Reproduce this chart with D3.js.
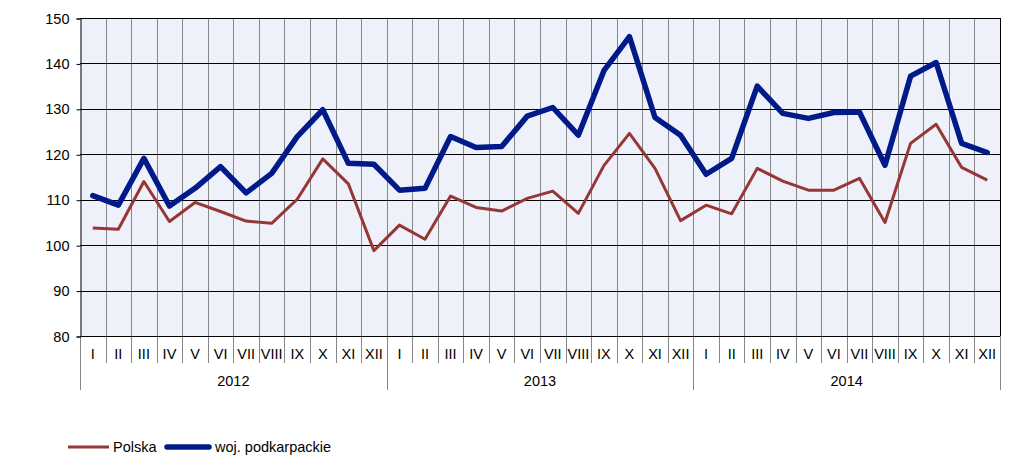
<!DOCTYPE html>
<html><head><meta charset="utf-8">
<script src="https://cdn.jsdelivr.net/npm/d3@7/dist/d3.min.js"></script>
<style>body{margin:0;background:#fff;font-family:"Liberation Sans",Arial,sans-serif;}</style>
</head><body>
<svg id="c" width="1010" height="472"></svg>
<script>
const years = ["2012", "2013", "2014"];
const months = ["I","II","III","IV","V","VI","VII","VIII","IX","X","XI","XII"];
const polska = [103.8,103.5,114.0,105.2,109.4,107.4,105.3,104.8,110.1,119.0,113.5,98.8,
                104.4,101.3,110.8,108.3,107.5,110.3,111.9,107.0,117.5,124.6,116.9,105.4,
                108.8,106.9,116.9,114.1,112.1,112.1,114.7,105.0,122.4,126.6,117.1,114.3];
const podkarpackie = [110.9,108.8,119.1,108.6,112.5,117.3,111.5,115.8,123.9,129.8,118.0,117.8,
                      112.1,112.5,123.9,121.5,121.7,128.4,130.3,124.2,138.4,145.9,128.1,124.2,
                      115.6,119.1,135.0,129.0,127.9,129.2,129.3,117.6,137.2,140.2,122.4,120.4];
const yTicks = [80,90,100,110,120,130,140,150];
const seriesNames = ["Polska", "woj. podkarpackie"];

const L = 80, R = 1000, T = 18, B = 336;
const svg = d3.select("#c");
const keys = [];
years.forEach(y => months.forEach(m => keys.push(y + "-" + m)));
const x = d3.scaleBand().domain(keys).range([L, R]).padding(0);
const y = d3.scaleLinear().domain([80, 150]).range([B, T]);
const font = "'Liberation Sans', Arial, sans-serif";
const fs = 14.5;

svg.append("rect").attr("x", L).attr("y", T).attr("width", R - L).attr("height", B - T).attr("fill", "#eef1f9");

keys.forEach((k, i) => {
  if (i === 0) return;
  const xx = Math.round(x(k)) + 0.5;
  const yearB = i % 12 === 0;
  svg.append("line").attr("x1", xx).attr("x2", xx).attr("y1", T).attr("y2", yearB ? 390 : 363)
    .attr("stroke", "#868686").attr("stroke-width", 1);
});
svg.append("line").attr("x1", R + 0.5).attr("x2", R + 0.5).attr("y1", T).attr("y2", B).attr("stroke", "#000");
svg.append("line").attr("x1", R + 0.5).attr("x2", R + 0.5).attr("y1", B).attr("y2", 390).attr("stroke", "#868686");
svg.append("line").attr("x1", L + 0.5).attr("x2", L + 0.5).attr("y1", B).attr("y2", 390).attr("stroke", "#868686");

yTicks.forEach(t => {
  const yy = Math.round(y(t)) + 0.5;
  svg.append("line").attr("x1", L).attr("x2", R).attr("y1", yy).attr("y2", yy).attr("stroke", "#000");
});

const yAxis = d3.axisLeft(y).tickValues(yTicks).tickSize(4).tickPadding(7);
const gy = svg.append("g").attr("transform", `translate(${L + 0.5},0.5)`).call(yAxis);
gy.select(".domain").attr("stroke", "#000");
gy.selectAll("text").attr("font-family", font).attr("font-size", fs).attr("fill", "#000");
gy.selectAll(".tick line").attr("stroke", "#000");

const xAxis = d3.axisBottom(x).tickSize(0).tickPadding(0).tickFormat(k => k.split("-")[1]);
const gx = svg.append("g").attr("transform", `translate(0,${B})`).call(xAxis);
gx.select(".domain").remove();
gx.selectAll("text").attr("font-family", font).attr("font-size", fs).attr("fill", "#000").attr("dy", null).attr("y", 23);

years.forEach(yr => {
  const x0 = x(yr + "-I"), x1 = x(yr + "-XII") + x.bandwidth();
  svg.append("text").attr("x", (x0 + x1) / 2).attr("y", 386).attr("text-anchor", "middle")
    .attr("font-family", font).attr("font-size", fs).attr("fill", "#000").text(yr);
});

const line = d3.line().x((d, i) => x(keys[i]) + x.bandwidth() / 2).y(d => y(d));
svg.append("path").datum(polska).attr("d", line).attr("fill", "none").attr("stroke", "#953735")
  .attr("stroke-width", 3).attr("stroke-linejoin", "round");
svg.append("path").datum(podkarpackie).attr("d", line).attr("fill", "none").attr("stroke", "#001a8a")
  .attr("stroke-width", 5.5).attr("stroke-linejoin", "round").attr("stroke-linecap", "round");

const lg = svg.append("g");
lg.append("line").attr("x1", 68).attr("x2", 109).attr("y1", 447).attr("y2", 447).attr("stroke", "#953735").attr("stroke-width", 3);
lg.append("text").attr("x", 113).attr("y", 452).attr("font-family", font).attr("font-size", fs).text(seriesNames[0]);
lg.append("line").attr("x1", 167).attr("x2", 209).attr("y1", 447).attr("y2", 447).attr("stroke", "#001a8a").attr("stroke-width", 5.5).attr("stroke-linecap", "round");
lg.append("text").attr("x", 215).attr("y", 452).attr("font-family", font).attr("font-size", fs).text(seriesNames[1]);
</script>
</body></html>
